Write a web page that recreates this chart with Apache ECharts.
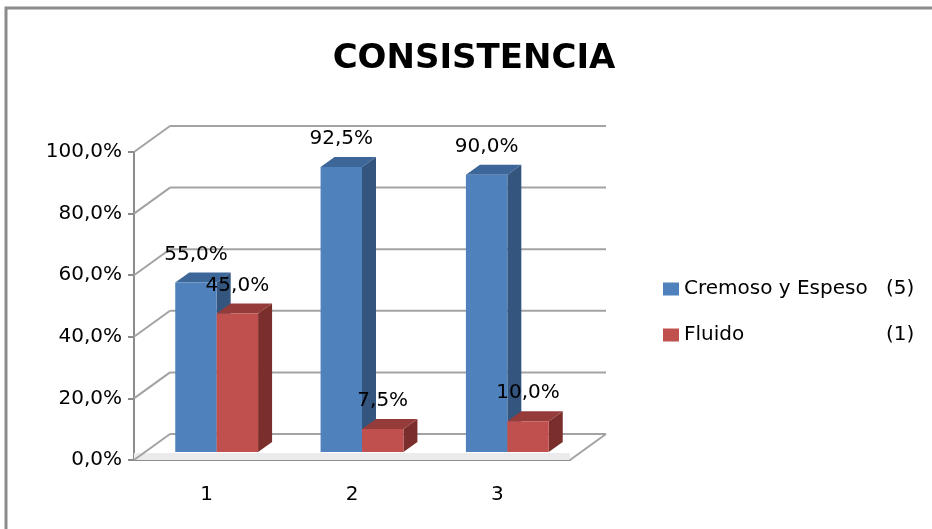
<!DOCTYPE html>
<html>
<head>
<meta charset="utf-8">
<script src="https://cdn.jsdelivr.net/npm/echarts@6/dist/echarts.min.js"></script>
<style>
  html, body { margin: 0; padding: 0; background: #fff; }
  #chart { width: 932px; height: 529px; }
</style>
</head>
<body>
<div id="chart"></div>
<script>
// Chart data
const titleText = 'CONSISTENCIA';
const categories = ['1', '2', '3'];
const seriesNames = ['Cremoso y Espeso', 'Fluido'];
const seriesCounts = ['(5)', '(1)'];
const cremosoValues = [55.0, 92.5, 90.0];
const fluidoValues = [45.0, 7.5, 10.0];
const yTicks = [0, 20, 40, 60, 80, 100];

// Face colours for the prism bars: front, top, side
const palettes = [
  { front: '#4f81bd', top: '#3d6699', side: '#33557e' },
  { front: '#c0504d', top: '#953c3a', side: '#7b2f2d' }
];

// Perspective offsets (pixels)
const WALL_DX = 36, WALL_DY = -26;     // depth of back wall
const BAR_SHIFT_X = 10, BAR_SHIFT_Y = -8; // plane in which the bars stand
const BAR_DX = 14, BAR_DY = -10;       // depth of each bar
const BAR_FRACTION = 0.285;            // bar width as a share of the category band

const FONT = 'DejaVu Sans';
const fmtPct = v => v.toFixed(1).replace('.', ',') + '%';

const chart = echarts.init(document.getElementById('chart'), null, { renderer: 'canvas' });

function renderWalls(params, api) {
  const cs = params.coordSys;
  const v = api.value(1);
  const y = api.coord([0, v])[1];
  const gx = cs.x, gw = cs.width;
  const lineStyle = { stroke: '#a3a3a3', lineWidth: 2 };
  const children = [
    { type: 'line', shape: { x1: gx, y1: y, x2: gx + WALL_DX, y2: y + WALL_DY }, style: lineStyle },
    { type: 'line', shape: { x1: gx + WALL_DX, y1: y + WALL_DY, x2: gx + gw + WALL_DX, y2: y + WALL_DY }, style: lineStyle }
  ];
  if (v === 0) {
    // floor slab front edge and right side
    children.unshift({
      type: 'polygon',
      shape: { points: [[gx, y - 7], [gx + gw, y - 7], [gx + gw, y], [gx, y]] },
      style: { fill: '#ebebeb' }
    });
    children.push({ type: 'line', shape: { x1: gx + gw, y1: y, x2: gx + gw + WALL_DX, y2: y + WALL_DY }, style: lineStyle });
  }
  return { type: 'group', children };
}

function renderBar(params, api) {
  const idx = params.seriesIndex - 1; // 0 = Cremoso, 1 = Fluido
  const pal = palettes[idx];
  const cat = api.value(0);
  const v = api.value(1);
  const base = api.coord([cat, 0]);
  const top = api.coord([cat, v]);
  const band = api.size([1, 0])[0];
  const w = band * BAR_FRACTION;
  const x0 = base[0] + BAR_SHIFT_X + (idx - 1) * w;
  const x1 = x0 + w;
  const yb = base[1] + BAR_SHIFT_Y;
  const yt = top[1] + BAR_SHIFT_Y;
  return {
    type: 'group',
    children: [
      { type: 'polygon', shape: { points: [[x1, yt], [x1 + BAR_DX, yt + BAR_DY], [x1 + BAR_DX, yb + BAR_DY], [x1, yb]] },
        style: { fill: pal.side } },
      { type: 'polygon', shape: { points: [[x0, yt], [x1, yt], [x1 + BAR_DX, yt + BAR_DY], [x0 + BAR_DX, yt + BAR_DY]] },
        style: { fill: pal.top } },
      { type: 'rect', shape: { x: x0, y: yt, width: w, height: yb - yt },
        style: { fill: pal.front } },
      { type: 'text', x: (x0 + x1) / 2, y: yt - 28,
        style: { text: fmtPct(v), fill: '#000', font: '20px "' + FONT + '"', textAlign: 'center', textVerticalAlign: 'middle' } }
    ]
  };
}

const option = {
  backgroundColor: '#fff',
  animation: false,
  title: {
    text: titleText,
    left: 469, top: 37,
    textAlign: 'center',
    textStyle: { fontFamily: FONT, fontSize: 34, fontWeight: 'bold', color: '#000' }
  },
  graphic: [
    { type: 'rect', shape: { x: 6, y: 8, width: 1000, height: 1000 },
      style: { fill: 'none', stroke: '#8c8c8c', lineWidth: 3 }, silent: true }
  ],
  legend: {
    orient: 'vertical',
    left: 658, top: 274,
    itemWidth: 16, itemHeight: 13,
    itemGap: 26,
    icon: 'rect',
    data: seriesNames,
    formatter: name => '{n|' + name + '}{c|' + seriesCounts[seriesNames.indexOf(name)] + '}',
    textStyle: {
      fontFamily: FONT, fontSize: 20, color: '#000',
      rich: {
        n: { fontFamily: FONT, fontSize: 20, color: '#000', width: 202 },
        c: { fontFamily: FONT, fontSize: 20, color: '#000' }
      }
    }
  },
  grid: { left: 134, top: 152, right: 362, bottom: 69 },
  xAxis: {
    type: 'category',
    data: categories,
    axisLine: { lineStyle: { color: '#8c8c8c', width: 2 } },
    axisTick: { length: 7, lineStyle: { color: '#8c8c8c', width: 2 } },
    axisLabel: { margin: 25, fontFamily: FONT, fontSize: 20, color: '#000' },
    splitLine: { show: false }
  },
  yAxis: {
    type: 'value',
    min: 0, max: 100, interval: 20,
    axisLine: { show: true, lineStyle: { color: '#8c8c8c', width: 2 } },
    axisTick: { show: true, length: 6, lineStyle: { color: '#8c8c8c', width: 2 } },
    axisLabel: { margin: 12, fontFamily: FONT, fontSize: 20, color: '#000', formatter: fmtPct },
    splitLine: { show: false }
  },
  series: [
    {
      name: 'walls',
      type: 'custom',
      silent: true,
      z: 1,
      renderItem: renderWalls,
      encode: { x: 0, y: 1 },
      data: yTicks.map(t => [0, t])
    },
    {
      name: seriesNames[0],
      type: 'custom',
      z: 3,
      itemStyle: { color: palettes[0].front },
      renderItem: renderBar,
      encode: { x: 0, y: 1 },
      data: cremosoValues.map((v, i) => [i, v])
    },
    {
      name: seriesNames[1],
      type: 'custom',
      z: 4,
      itemStyle: { color: palettes[1].front },
      renderItem: renderBar,
      encode: { x: 0, y: 1 },
      data: fluidoValues.map((v, i) => [i, v])
    }
  ]
};

chart.setOption(option);
</script>
</body>
</html>
